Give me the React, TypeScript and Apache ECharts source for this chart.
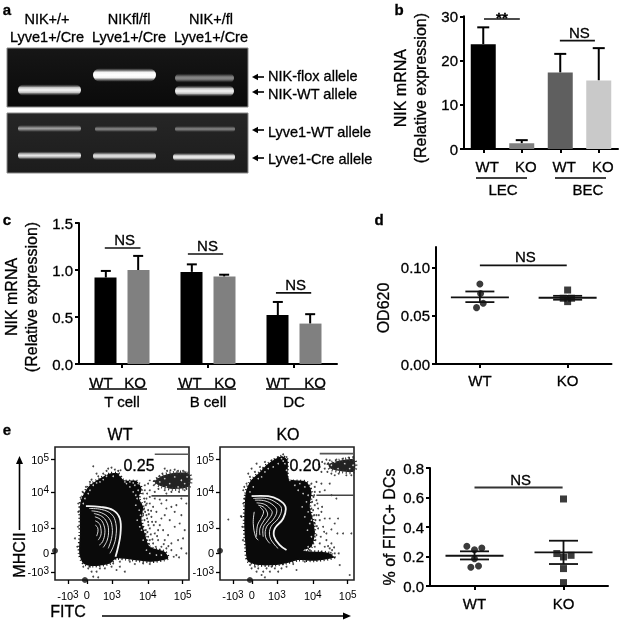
import React, { useEffect, useRef } from "react";
import * as echarts from "echarts";

const FONT = "'Liberation Sans', Arial, sans-serif";
const INK = "#000";
const HEAVY = { textBorderColor: "#000", textBorderWidth: 0.3 };
const HEAVY_SHAPE = { stroke: "#000", lineWidth: 0.3 };

// Panel b
const bLabels = ["WT", "KO", "WT", "KO"];
const bMeans = [23.7, 1.3, 17.3, 15.5];
const bTops = [27.5, 2.0, 21.5, 22.8];
const bColors = ["#000000", "#808080", "#5f5f5f", "#c9c9c9"];
const bBrackets = [
  [0.52, 1.45, 29.4, "**"],
  [2.49, 3.4, 24.5, "NS"],
];

// Panel c
const cGroups = ["T cell", "B cell", "DC"];
const cWT = [0.92, 0.98, 0.52];
const cWTTop = [0.99, 1.06, 0.66];
const cKO = [1.0, 0.93, 0.43];
const cKOTop = [1.15, 0.95, 0.53];
const cBrackets = [
  [0.3, 0.715, 1.234, "NS"],
  [1.266, 1.676, 1.17, "NS"],
  [2.29, 2.7, 0.757, "NS"],
];

// Panel d
const dCats = ["WT", "KO"];
const dWTPoints = [[0.5, 0.0828], [0.508, 0.073], [0.538, 0.0628], [0.462, 0.0583]];
const dKOPoints = [[1.5, 0.0765], [1.45, 0.068], [1.545, 0.068], [1.5, 0.0645]];
const dStats = [[0.5, 0.069, 0.064, 0.075], [1.5, 0.0685, 0.0665, 0.0705]];
const dBrackets = [[0.5, 1.49, 0.102, "NS"]];

// Panel e, right
const eCats = ["WT", "KO"];
const eWTPoints = [[0.414, 0.269], [0.5, 0.246], [0.582, 0.258], [0.5, 0.185], [0.459, 0.127], [0.545, 0.136]];
const eKOPoints = [[1.5, 0.59], [1.425, 0.22], [1.585, 0.208], [1.5, 0.197], [1.5, 0.118], [1.5, 0.023]];
const eStats = [[0.5, 0.205, 0.18, 0.235], [1.5, 0.228, 0.149, 0.307]];
const eBrackets = [[0.5, 1.49, 0.667, "NS"]];

// Flow plots: channel values on the plots' own scale
const flowXTicks = [54, 111, 186, 294, 399];
const flowXLabels = ["-10{s|3}", "0", "10{s|3}", "10{s|4}", "10{s|5}"];
const flowYTicks = [58, 155, 263, 340, 397];
const flowYLabels = ["10{s|5}", "10{s|4}", "10{s|3}", "0", "-10{s|3}"];

const wtBlob = [[90,200],[95,175],[115,140],[150,115],[180,100],[205,100],[222,120],[260,122],[275,145],[268,175],[280,200],[275,240],[285,280],[300,320],[345,335],[355,355],[300,365],[200,355],[180,370],[130,378],[100,370],[88,340],[90,280]];
const wtCluster = [[315,125],[335,108],[370,98],[418,102],[418,138],[370,146],[335,138]];
const wtContours = [
  [[108,198],[150,200],[190,210],[210,235],[212,280],[205,320],[197,350]],
  [[118,205],[155,208],[185,222],[198,250],[198,290],[190,320],[180,340]],
  [[125,212],[155,218],[178,235],[187,262],[185,295],[175,325]],
  [[132,220],[155,228],[170,245],[176,270],[172,300],[160,322]],
  [[135,230],[152,238],[162,255],[165,278],[158,305],[148,315]],
  [[136,242],[148,250],[153,265],[153,285],[145,300]],
  [[136,255],[143,262],[144,275],[140,288]],
];
const wtDots = [
  [130,78],[175,85],[185,82],[195,88],[212,90],[160,100],[145,108],[120,125],[108,140],[98,155],[92,172],[85,190],[125,118],[140,100],[170,92],[205,92],
  [290,175],[300,190],[295,210],[310,200],[320,215],[335,190],[350,205],[365,200],[380,195],[345,225],[360,240],[305,230],[318,245],[330,255],[295,245],[300,265],[315,280],[340,270],[355,285],[375,260],[390,250],[405,270],[385,300],[365,310],[345,300],[325,300],[310,310],[295,290],[305,325],[320,330],[335,320],[350,325],[365,330],[380,345],[395,325],[410,340],[372,350],[388,352],[400,295],[290,225],[285,185],[300,170],[315,175],[330,178],[350,180],[375,215],[395,225],[335,235],[325,270],[290,300],[300,300],[280,260],[288,270],[292,160],[285,150],[300,150],[315,155],[295,130],[285,135],[350,160],[395,175],[410,190],
  [283,205],[286,215],[292,235],[284,240],[296,255],[287,283],[293,276],[303,283],[298,312],[308,298],[283,175],[279,160],[288,195],[304,212],[312,255],[322,288],[318,320],[330,330],[342,312],[356,318],[280,225],[291,190],[297,222],[307,245],[285,300],[292,318],
  [315,122],[325,128],[300,120],[345,85],[375,88],[400,92],[410,145],[388,155],[352,92],[362,90],[385,92],[408,96],[338,100],[328,108],[322,115],[312,135],[326,146],[345,150],[365,155],[405,150],
  [115,385],[140,395],[130,410],[145,412],[165,385],[200,390],[225,395],[210,380],[255,372],[280,370],[300,372],[75,295],[125,395],[185,380],[240,365],[100,380],[190,370],[150,385],[120,380],[210,365],[82,320],[84,260],[85,215],
];
const wtSpecks = [
  [240,140],[255,135],[265,150],[250,155],[262,175],[270,165],[240,125],[230,130],[258,195],[268,210],[262,240],[270,260],[275,270],[280,300],[290,330],[300,340],[320,345],[335,345],[272,225],[258,165],[250,128],[265,130],[210,105],[190,108],[170,108],[150,125],[130,135],[115,160],[105,175],[100,190],[160,118],[140,128],[225,125],[120,150],
  [330,125],[345,115],[360,130],[375,110],[395,120],[405,130],[350,140],[385,140],[412,110],
];
const koBlob = [[92,160],[105,125],[135,95],[160,70],[200,48],[218,60],[222,115],[275,125],[290,155],[285,200],[295,240],[300,280],[290,320],[265,332],[340,338],[358,352],[300,362],[250,360],[225,367],[180,375],[130,375],[98,362],[92,320],[88,250]];
const koCluster = [[342,72],[380,60],[418,58],[418,93],[380,93],[347,85]];
const koContours = [
  [[110,168],[160,168],[190,178],[212,200],[205,235],[180,265],[178,290],[195,315],[215,330]],
  [[115,175],[155,175],[185,188],[200,205],[190,235],[168,260],[165,290],[180,315],[190,325]],
  [[120,180],[150,182],[175,195],[186,212],[175,238],[155,260],[152,290],[165,310]],
  [[125,188],[148,192],[165,205],[172,218],[160,240],[145,262],[145,290]],
  [[130,195],[145,200],[155,212],[158,225],[148,240],[135,265],[135,285]],
  [[135,200],[140,205],[146,215],[140,232],[128,255],[125,290]],
  [[118,215],[115,250],[122,290],[130,300]],
];
const koDots = [
  [205,42],[215,50],[190,50],[170,60],[150,65],[135,80],[120,95],[110,85],[105,110],[95,130],[85,150],[125,70],[145,85],[180,58],[100,100],[88,175],[80,230],[40,238],[78,228],
  [298,165],[305,180],[300,195],[310,205],[295,210],[320,215],[305,225],[315,240],[300,250],[330,235],[345,235],[325,260],[310,265],[305,285],[318,290],[335,300],[350,310],[358,322],[345,325],[330,320],[315,310],[300,320],[285,330],[370,235],[360,250],[350,268],[368,280],[385,280],[410,280],[335,280],[300,140],[290,130],[305,125],[320,130],[345,130],[330,150],[315,155],[350,165],[365,175],[372,340],[375,375],[405,405],[360,340],[348,338],[320,335],[305,340],
  [292,185],[290,205],[298,225],[302,240],[306,258],[298,275],[302,300],[295,308],[312,225],[308,190],[296,170],[288,145],[300,155],[322,200],[328,275],[340,318],[352,330],
  [320,95],[330,85],[315,80],[350,100],[360,105],[395,105],[410,105],[345,60],[335,58],[330,70],[322,65],[338,95],[372,100],[385,55],[402,52],[415,50],[365,58],[312,72],
  [110,385],[125,395],[140,405],[150,412],[165,395],[180,385],[200,385],[215,380],[235,372],[245,390],[240,360],[270,365],[105,375],[130,385],[155,385],[190,395],[170,380],[145,395],[120,380],[205,372],[84,300],[85,190],[82,260],[88,140],
];
const koSpecks = [
  [240,135],[255,130],[270,140],[280,165],[275,185],[265,160],[250,150],[280,215],[285,250],[290,290],[280,320],[270,330],[225,120],[210,70],[205,62],[190,70],[175,80],[150,95],[130,115],[115,140],[105,155],[100,130],[160,85],[140,110],[200,55],[215,90],[262,200],[270,230],[278,270],[290,240],
  [350,75],[370,85],[390,70],[405,85],[360,65],[415,75],
];

const axisLine = (w = 2, color = INK) => ({ show: true, onZero: false, lineStyle: { color, width: w } });
const tick = (w = 2, color = INK) => ({ show: true, length: 4, lineStyle: { color, width: w } });

function hiddenX(gridIndex: number, max: number) {
  return { type: "value", gridIndex, min: 0, max, show: false };
}
function catX(gridIndex: number, data: string[], extra: any = {}) {
  return {
    type: "category",
    gridIndex,
    data,
    axisLine: axisLine(),
    axisTick: { ...tick(), alignWithLabel: true },
    axisLabel: { color: INK, fontSize: 15, fontFamily: FONT, margin: 9, interval: 0, ...HEAVY, ...extra },
  };
}
function valY(gridIndex: number, max: number, name: string, values: number[], digits: number, nameGap: number, shift: number) {
  return {
    type: "value",
    gridIndex,
    min: 0,
    max,
    splitLine: { show: false },
    axisLine: axisLine(),
    axisTick: { ...tick(), customValues: values },
    axisLabel: {
      color: INK,
      fontSize: 15,
      fontFamily: FONT,
      margin: 6,
      ...HEAVY,
      customValues: values,
      formatter: (v: number) => v.toFixed(digits),
    },
    name,
    nameLocation: "middle",
    nameGap,
    nameTextStyle: { color: INK, fontSize: 16, fontFamily: FONT, lineHeight: 20, padding: [0, shift, 0, 0], ...HEAVY },
  };
}

function errorSeries(x: number, y: number, data: number[][], capPx: number) {
  return {
    type: "custom",
    coordinateSystem: "cartesian2d",
    xAxisIndex: x,
    yAxisIndex: y,
    clip: false,
    z: 1,
    encode: { x: 0, y: 1 },
    data,
    renderItem: (_: any, api: any) => {
      const a = api.coord([api.value(0), api.value(1)]);
      const b = api.coord([api.value(0), api.value(2)]);
      const s = { stroke: "#000", lineWidth: 2 };
      return {
        type: "group",
        children: [
          { type: "line", shape: { x1: a[0], y1: a[1], x2: b[0], y2: b[1] }, style: s },
          { type: "line", shape: { x1: b[0] - capPx / 2, y1: b[1], x2: b[0] + capPx / 2, y2: b[1] }, style: s },
        ],
      };
    },
  };
}
function bracketSeries(x: number, y: number, data: any[], color = "#111", w = 1.6) {
  return {
    type: "custom",
    coordinateSystem: "cartesian2d",
    xAxisIndex: x,
    yAxisIndex: y,
    clip: false,
    z: 5,
    encode: { x: 0, y: 2 },
    data,
    renderItem: (_: any, api: any) => {
      const a = api.coord([api.value(0), api.value(2)]);
      const b = api.coord([api.value(1), api.value(2)]);
      const label = api.value(3);
      const stars = label === "**";
      return {
        type: "group",
        children: [
          { type: "line", shape: { x1: a[0], y1: a[1], x2: b[0], y2: b[1] }, style: { stroke: color, lineWidth: w } },
          {
            type: "text",
            style: {
              text: label,
              x: (a[0] + b[0]) / 2 + (stars ? 0 : 2),
              y: a[1] - 1,
              textAlign: "center",
              textVerticalAlign: stars ? "middle" : "bottom",
              fontSize: 15,
              fontWeight: stars ? "bold" : "normal",
              fontFamily: FONT,
              fill: INK,
              ...HEAVY_SHAPE,
            },
          },
        ],
      };
    },
  };
}
function statSeries(x: number, y: number, data: number[][]) {
  return {
    type: "custom",
    coordinateSystem: "cartesian2d",
    xAxisIndex: x,
    yAxisIndex: y,
    clip: false,
    z: 4,
    encode: { x: 0, y: 1 },
    data,
    renderItem: (_: any, api: any) => {
      const cx = api.value(0);
      const mid = api.coord([cx, api.value(1)]);
      const lo = api.coord([cx, api.value(2)]);
      const hi = api.coord([cx, api.value(3)]);
      const s = { stroke: "#111", lineWidth: 1.8 };
      const h = (p: number[], half: number) => ({
        type: "line",
        shape: { x1: p[0] - half, y1: p[1], x2: p[0] + half, y2: p[1] },
        style: s,
      });
      return {
        type: "group",
        children: [
          h(mid, 29),
          h(lo, 14.5),
          h(hi, 14.5),
          { type: "line", shape: { x1: lo[0], y1: lo[1], x2: hi[0], y2: hi[1] }, style: s },
        ],
      };
    },
  };
}
function dots(x: number, y: number, data: number[][], symbol: string) {
  return {
    type: "scatter",
    xAxisIndex: x,
    yAxisIndex: y,
    symbol,
    symbolSize: 7,
    z: 3,
    itemStyle: { color: "#0a0a0a" },
    data,
  };
}

const flowLabelRich = { s: { fontSize: 10, fontFamily: FONT, color: INK, verticalAlign: "top", lineHeight: 14 } };
function flowAxes(g: number) {
  return {
    x: {
      type: "value",
      gridIndex: g,
      min: 15,
      max: 418,
      splitLine: { show: false },
      axisLine: { show: false },
      axisTick: { show: true, length: 4, lineStyle: { color: INK, width: 1.3 }, customValues: flowXTicks },
      axisLabel: {
        customValues: flowXTicks,
        margin: 9,
        color: INK,
        fontSize: 11,
        fontFamily: FONT,
        formatter: (v: number) => flowXLabels[flowXTicks.indexOf(v)],
        rich: flowLabelRich,
      },
    },
    y: {
      type: "value",
      gridIndex: g,
      inverse: true,
      min: 20,
      max: 420,
      splitLine: { show: false },
      axisLine: { show: false },
      axisTick: { show: true, length: 4, lineStyle: { color: INK, width: 1.3 }, customValues: flowYTicks },
      axisLabel: {
        customValues: flowYTicks,
        margin: 6,
        color: INK,
        fontSize: 11,
        fontFamily: FONT,
        formatter: (v: number) => flowYLabels[flowYTicks.indexOf(v)],
        rich: flowLabelRich,
      },
    },
  };
}

function flowSeries(x: number, y: number, blob: number[][], cluster: number[][], contours: number[][][], pts: number[][], specks: number[][], box: number[], gateTop: number, gateBottom: number) {
  return [
    {
      type: "scatter",
      xAxisIndex: x,
      yAxisIndex: y,
      symbolSize: 1.9,
      z: 2,
      itemStyle: { color: "#1a1a1a" },
      data: pts,
    },
    {
      type: "custom",
      coordinateSystem: "cartesian2d",
      xAxisIndex: x,
      yAxisIndex: y,
      z: 3,
      data: [[0, 0]],
      encode: { x: 0, y: 1 },
      renderItem: (_: any, api: any) => {
        const map = (p: number[]) => api.coord(p);
        const tl = map([box[0], box[1]]);
        const br = map([box[2], box[3]]);
        const gate = (yy: number, x0: number, color: string) => {
          const a = map([x0, yy]);
          const b = map([418, yy]);
          return { type: "line", shape: { x1: a[0], y1: a[1], x2: b[0], y2: b[1] }, style: { stroke: color, lineWidth: 1.6 } };
        };
        return {
          type: "group",
          children: [
            { type: "polygon", shape: { points: blob.map(map), smooth: 0.25 }, style: { fill: "#0a0a0a", stroke: "#111", lineWidth: 3, lineDash: [1, 2.5] } },
            { type: "polygon", shape: { points: cluster.map(map), smooth: 0.3 }, style: { fill: "#222", stroke: "#333", lineWidth: 4, lineDash: [1, 2.5] } },
            { type: "rect", shape: { x: tl[0], y: tl[1], width: br[0] - tl[0], height: br[1] - tl[1] }, style: { fill: "#fff" } },
            ...contours.map((c, i) => ({
              type: "polyline",
              shape: { points: c.map(map), smooth: 0.4 },
              style: { stroke: "#f4f4f4", lineWidth: i === 0 ? 1.8 : 0.9, fill: "none" },
            })),
            gate(gateTop, 315, "#555"),
            gate(gateBottom, 305, "#444"),
          ],
        };
      },
    },
    {
      type: "scatter",
      xAxisIndex: x,
      yAxisIndex: y,
      symbolSize: 1.6,
      z: 4,
      itemStyle: { color: "#fff" },
      data: specks,
    },
    {
      type: "scatter",
      xAxisIndex: x,
      yAxisIndex: y,
      symbolSize: 6,
      z: 2,
      clip: false,
      itemStyle: { color: "#111" },
      data: [[15, 332], [105, 420]],
    },
  ];
}

function graphics() {
  const els: any[] = [];
  const t = (text: string, x: number, y: number, o: any = {}) =>
    els.push({
      type: "text",
      x,
      y,
      rotation: o.rotation || 0,
      silent: true,
      z: 10,
      style: {
        text,
        fontFamily: FONT,
        fontSize: o.size || 15,
        fontWeight: o.weight || "normal",
        fill: INK,
        textAlign: o.align || "center",
        textVerticalAlign: "middle",
        ...HEAVY_SHAPE,
      },
    });
  const line = (x1: number, y1: number, x2: number, y2: number, w = 1.6, c = INK) =>
    els.push({ type: "line", silent: true, z: 10, shape: { x1, y1, x2, y2 }, style: { stroke: c, lineWidth: w } });
  const tri = (pts: number[][]) => els.push({ type: "polygon", silent: true, z: 10, shape: { points: pts }, style: { fill: INK } });

  // panel letters
  t("a", 7, 9, { size: 15, weight: "bold" });
  t("b", 399, 9, { size: 15, weight: "bold" });
  t("c", 7, 219, { size: 15, weight: "bold" });
  t("d", 379, 219, { size: 15, weight: "bold" });
  t("e", 7, 429, { size: 15, weight: "bold" });

  // gel
  const gel = (x: number, y: number, w: number, h: number, c0: string, c1: string) =>
    els.push({
      type: "rect",
      silent: true,
      shape: { x, y, width: w, height: h },
      style: {
        fill: { type: "linear", x: 0, y: 0, x2: 0, y2: 1, colorStops: [{ offset: 0, color: c0 }, { offset: 1, color: c1 }] },
        stroke: "#8a8a8a",
        lineWidth: 1,
      },
    });
  gel(7, 48, 241, 59, "#161616", "#0a0a0a");
  gel(7, 113, 241, 60, "#262626", "#1c1c1c");
  const band = (x: number, y: number, w: number, h: number, core: string, shoulder: string, glowBase: string) =>
    els.push({
      type: "rect",
      silent: true,
      z: 2,
      shape: { x, y: y - h / 2, width: w, height: h, r: h / 2 },
      style: {
        fill: {
          type: "linear",
          x: 0,
          y: 0,
          x2: 0,
          y2: 1,
          colorStops: [
            { offset: 0, color: glowBase },
            { offset: 0.28, color: shoulder },
            { offset: 0.5, color: core },
            { offset: 0.72, color: shoulder },
            { offset: 1, color: glowBase },
          ],
        },
      },
    });
  band(18, 90, 63, 11, "#f4f4f4", "#c8c8c8", "rgba(90,90,90,0.15)");
  band(93, 75, 63, 13, "#ffffff", "#f2f2f2", "rgba(120,120,120,0.2)");
  band(175, 78, 59, 9, "#8c8c8c", "#6a6a6a", "rgba(50,50,50,0.15)");
  band(175, 91, 59, 11, "#f4f4f4", "#c8c8c8", "rgba(90,90,90,0.15)");
  band(18, 128.5, 63, 7, "#9e9e9e", "#747474", "rgba(60,60,60,0.2)");
  band(95, 129, 62, 6, "#8a8a8a", "#626262", "rgba(60,60,60,0.2)");
  band(175, 129, 60, 6, "#868686", "#606060", "rgba(60,60,60,0.2)");
  band(18, 155.5, 63, 8, "#e6e6e6", "#b4b4b4", "rgba(90,90,90,0.2)");
  band(93, 156, 63, 8, "#e8e8e8", "#b4b4b4", "rgba(90,90,90,0.2)");
  band(173, 157, 62, 8, "#f4f4f4", "#c0c0c0", "rgba(90,90,90,0.2)");

  t("NIK+/+", 47, 19, { size: 14.5 });
  t("Lyve1+/Cre", 47, 37, { size: 14.5 });
  t("NIKfl/fl", 129, 19, { size: 14.5 });
  t("Lyve1+/Cre", 129, 37, { size: 14.5 });
  t("NIK+/fl", 211, 19, { size: 14.5 });
  t("Lyve1+/Cre", 211, 37, { size: 14.5 });
  const rows: [string, number, number][] = [
    ["NIK-flox allele", 76, 77],
    ["NIK-WT allele", 94, 92],
    ["Lyve1-WT allele", 132, 130],
    ["Lyve1-Cre allele", 159, 158],
  ];
  rows.forEach(([s, ty, ay]) => {
    t(s, 268, ty, { size: 14.5, align: "left" });
    line(256, ay, 264, ay, 1.6);
    tri([[252, ay], [258, ay - 3.2], [258, ay + 3.2]]);
  });

  // b captions
  line(476, 178, 527, 178);
  line(555, 178, 606, 178);
  t("LEC", 503, 189);
  t("BEC", 588, 189);

  // c captions
  const cLabs: [string, number][] = [["WT", 101], ["KO", 135], ["WT", 190], ["KO", 225], ["WT", 278], ["KO", 315]];
  cLabs.forEach(([s, x]) => t(s, x, 382));
  line(89, 389, 147, 389);
  line(177, 389, 236, 389);
  line(266, 389, 325, 389);

  // flow
  t("WT", 120, 434, { size: 16 });
  t("KO", 288, 434, { size: 16 });
  t("0.25", 139, 465, { size: 16 });
  t("0.20", 305, 465, { size: 16 });
  t("MHCII", 19, 555, { size: 16, rotation: Math.PI / 2 });
  t("FITC", 68, 611, { size: 16 });
  line(19.5, 530, 19.5, 462, 1.6);
  tri([[19.5, 456], [16, 464], [23, 464]]);
  line(102, 616, 345, 616, 1.6);
  tri([[351, 616], [343, 612.5], [343, 619.5]]);
  return els;
}

export default function App() {
  const ref = useRef<HTMLDivElement>(null);
  useEffect(() => {
    if (!ref.current) return;
    const chart = echarts.init(ref.current, undefined, { renderer: "svg" });
    const fa = flowAxes(4);
    const fb = flowAxes(5);
    const frame = { show: true, borderColor: "#222", borderWidth: 1.6, backgroundColor: "#fff" };
    chart.setOption({
      animation: false,
      textStyle: { fontFamily: FONT },
      grid: [
        { left: 464, top: 13, width: 154, height: 136 },
        { left: 74, top: 223, width: 263, height: 141 },
        { left: 436, top: 247, width: 175.5, height: 117 },
        { left: 430, top: 468, width: 178, height: 118 },
        { left: 55, top: 447, width: 134, height: 133, ...frame },
        { left: 220, top: 447, width: 134, height: 133, ...frame },
      ],
      xAxis: [
        catX(0, bLabels, { padding: [0, 0, 0, 8], margin: 10 }),
        hiddenX(0, 4),
        catX(1, cGroups, { margin: 30 }),
        hiddenX(1, 3),
        catX(2, dCats, { margin: 9 }),
        hiddenX(2, 2),
        catX(3, eCats, { margin: 10 }),
        hiddenX(3, 2),
        fa.x,
        fb.x,
      ],
      yAxis: [
        valY(0, 30, "NIK mRNA\n(Relative expression)", [0, 10, 20, 30], 0, 34, 11),
        valY(1, 1.5, "NIK mRNA\n(Relative expression)", [0, 0.5, 1, 1.5], 1, 38, 7),
        valY(2, 0.121, "OD620", [0, 0.05, 0.1], 2, 43, 5),
        valY(3, 0.8, "% of FITC+ DCs", [0, 0.2, 0.4, 0.6, 0.8], 1, 27, 0),
        fa.y,
        fb.y,
      ],
      graphic: { elements: graphics() },
      series: [
        // b
        {
          type: "bar",
          xAxisIndex: 0,
          yAxisIndex: 0,
          barWidth: 25,
          data: bMeans.map((v, i) => ({ value: v, itemStyle: { color: bColors[i] } })),
        },
        errorSeries(1, 0, bMeans.map((v, i) => [i + 0.5, v, bTops[i]]), 12),
        bracketSeries(1, 0, bBrackets),
        // c
        {
          type: "bar",
          xAxisIndex: 2,
          yAxisIndex: 1,
          barWidth: 22,
          barGap: "50%",
          itemStyle: { color: "#000" },
          data: cWT,
        },
        {
          type: "bar",
          xAxisIndex: 2,
          yAxisIndex: 1,
          barWidth: 22,
          itemStyle: { color: "#808080" },
          data: cKO,
        },
        errorSeries(3, 1, cWT.map((v, i) => [i + 0.312, v, cWTTop[i]]), 10),
        errorSeries(3, 1, cKO.map((v, i) => [i + 0.688, v, cKOTop[i]]), 10),
        bracketSeries(3, 1, cBrackets),
        // d
        dots(5, 2, dWTPoints, "circle"),
        dots(5, 2, dKOPoints, "rect"),
        statSeries(5, 2, dStats),
        bracketSeries(5, 2, dBrackets),
        // e
        dots(7, 3, eWTPoints, "circle"),
        dots(7, 3, eKOPoints, "rect"),
        statSeries(7, 3, eStats),
        bracketSeries(7, 3, eBrackets, "#333", 2),
        // flow
        ...flowSeries(8, 4, wtBlob, wtCluster, wtContours, wtDots, wtSpecks, [222, 60, 310, 118], 42, 167),
        ...flowSeries(9, 5, koBlob, koCluster, koContours, koDots, koSpecks, [222, 60, 310, 118], 40, 165),
      ],
    });
    return () => chart.dispose();
  }, []);
  return (
    <div
      ref={ref}
      style={{ position: "fixed", left: 0, top: 0, width: 620, height: 622, background: "#fff", filter: "blur(0.5px)" }}
    />
  );
}
